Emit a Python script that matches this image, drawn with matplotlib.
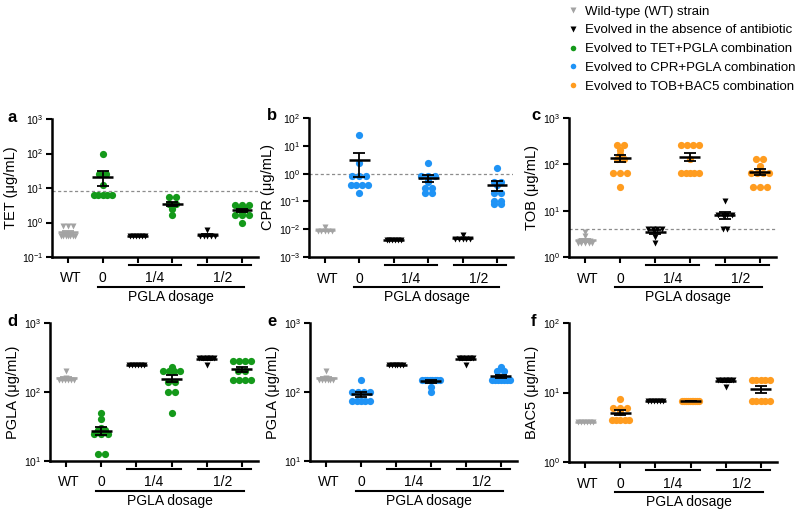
import numpy as np
import matplotlib.pyplot as plt
from matplotlib.lines import Line2D
from matplotlib.ticker import LogLocator, NullLocator
from matplotlib.transforms import blended_transform_factory

plt.rcParams['font.family'] = ['Liberation Sans', 'DejaVu Sans']
plt.rcParams['mathtext.default'] = 'regular'

# group order in every panel:
# WT, PGLA 0 (combination), 1/4 no antibiotic, 1/4 combination, 1/2 no antibiotic, 1/2 combination
group_labels = ['WT', '0', '1/4', '1/2']
dosage_label = 'PGLA dosage'

tet = [
    [0.8, 0.8, 0.8, 0.4, 0.4, 0.4, 0.4, 0.4, 0.4, 0.4],
    [100, 25, 25, 12.5, 6.25, 6.25, 6.25, 6.25, 6.25],
    [0.4, 0.4, 0.4, 0.4, 0.4, 0.4],
    [5.5, 5.5, 3.5, 3.5, 3.2, 3.0, 2.5, 1.6],
    [0.6, 0.4, 0.4, 0.4, 0.4, 0.4],
    [3.2, 3.2, 3.2, 2.5, 2.5, 2.0, 1.6, 1.6, 1.6, 1.0],
]
cpr = [
    [0.012, 0.0085, 0.0085, 0.0085, 0.0085, 0.0085],
    [25, 2.5, 0.8, 0.8, 0.8, 0.4, 0.4, 0.4, 0.4, 0.2],
    [0.004, 0.004, 0.004, 0.004, 0.004, 0.004],
    [2.5, 0.8, 0.8, 0.8, 0.6, 0.5, 0.3, 0.3, 0.2, 0.2],
    [0.006, 0.0045, 0.0045, 0.0045, 0.0045, 0.0045],
    [1.6, 0.5, 0.5, 0.4, 0.2, 0.2, 0.1, 0.1, 0.08, 0.08],
]
tob = [
    [3.5, 2.8, 2.2, 2.2, 2.2, 2.0, 2.0, 2.0, 2.0, 2.0],
    [256, 256, 200, 170, 128, 128, 64, 64, 64, 32],
    [4, 4, 4, 4, 2.7, 2],
    [256, 256, 256, 256, 128, 64, 64, 64, 64, 64],
    [16, 8, 8, 8, 8, 4, 4],
    [128, 128, 90, 64, 64, 64, 64, 32, 32, 32],
]
pgla_tet = [
    [200, 160, 150, 150, 150, 150, 150, 150],
    [50, 40, 30, 28, 28, 25, 25, 25, 12.5, 12.5],
    [250, 250, 250, 250, 250, 250],
    [230, 200, 200, 200, 200, 140, 140, 100, 100, 50],
    [310, 310, 310, 310, 310, 250],
    [280, 280, 280, 280, 200, 200, 150, 150, 150, 150],
]
pgla_cpr = [
    [200, 160, 150, 150, 150, 150, 150, 150],
    [150, 100, 100, 100, 100, 75, 75, 75, 75, 75],
    [250, 250, 250, 250, 250, 250],
    [150, 150, 150, 150, 150, 150, 150, 150, 120, 100],
    [310, 310, 310, 310, 310, 250],
    [230, 200, 200, 150, 150, 150, 150, 150, 150, 150],
]
bac5 = [
    [3.8, 3.8, 3.8, 3.8, 3.8, 3.8],
    [8, 6, 6, 6, 5.3, 4, 4, 4, 4, 4],
    [7.5, 7.5, 7.5, 7.5, 7.5, 7.5],
    [7.5, 7.5, 7.5, 7.5, 7.5, 7.5, 7.5, 7.5, 7.5, 7.5],
    [15, 15, 15, 15, 15, 12],
    [15, 15, 15, 15, 15, 7.5, 7.5, 7.5, 7.5, 7.5],
]

green = '#14991a'
blue = '#1f93f5'
orange = '#ff9c1f'
grey = '#a3a3a3'

legend_labels = ['Wild-type (WT) strain', 'Evolved in the absence of antibiotic',
                 'Evolved to TET+PGLA combination', 'Evolved to CPR+PGLA combination',
                 'Evolved to TOB+BAC5 combination']

# letter, y label, data, colour, y limits, dotted breakpoint, axes rect (px: left, top, right, bottom)
panels = [
    ('a', 'TET (μg/mL)', tet, green, (0.1, 1000), 8, (52, 119, 258, 257)),
    ('b', 'CPR (μg/mL)', cpr, blue, (0.001, 100), 1, (309, 118, 513, 257)),
    ('c', 'TOB (μg/mL)', tob, orange, (1, 1000), 4, (569, 118, 776, 257)),
    ('d', 'PGLA (μg/mL)', pgla_tet, green, (10, 1000), None, (50, 323, 258, 461)),
    ('e', 'PGLA (μg/mL)', pgla_cpr, blue, (10, 1000), None, (310, 323, 517, 461)),
    ('f', 'BAC5 (μg/mL)', bac5, orange, (1, 100), None, (569, 323, 777, 462)),
]
letter_x = {'a': 7, 'b': 267, 'c': 531, 'd': 7, 'e': 267, 'f': 531}

W, H = 800, 516
fig = plt.figure(figsize=(8, 5.16), dpi=100)


def offsets(vals, span, step_max):
    # spread points with the same value side by side, like a scatter dot plot
    vals = np.asarray(vals, dtype=float)
    key = np.round(np.log10(vals) * 25)
    off = np.zeros(len(vals))
    for k in np.unique(key):
        idx = np.where(key == k)[0]
        n = len(idx)
        if n > 1:
            step = min(step_max, span / (n - 1))
            off[idx] = (np.arange(n) - (n - 1) / 2) * step
    return off


for letter, ylabel, data, color, ylim, cut, (l, t, r, b) in panels:
    ax = fig.add_axes([l / W, 1 - b / H, (r - l) / W, (b - t) / H])
    ax.set_yscale('log')
    ax.set_ylim(*ylim)
    ax.set_xlim(-0.46, 5.46)

    for i, vals in enumerate(data):
        if i == 0:
            mk, mc, ms, lc = 'v', grey, 4.5, grey
        elif i in (2, 4):
            mk, mc, ms, lc = 'v', 'black', 4.5, 'black'
        else:
            mk, mc, ms, lc = 'o', color, 5.2, 'black'
        v = np.asarray(vals, dtype=float)
        if mk == 'v':
            off = offsets(v, 0.42, 0.14)
        else:
            off = offsets(v, 0.5, 0.2)
        ax.plot(i + off, v, ls='none', marker=mk, color=mc, ms=ms,
                mec='none', zorder=2, clip_on=False)
        m = v.mean()
        sem = v.std(ddof=1) / np.sqrt(len(v))
        ax.hlines(m, i - 0.3, i + 0.3, color=lc, lw=1.8, zorder=3)
        ax.vlines(i, m - sem, m + sem, color=lc, lw=1.3, zorder=3)
        ax.hlines([m - sem, m + sem], i - 0.17, i + 0.17, color=lc, lw=1.3, zorder=3)

    if cut is not None:
        ax.axhline(cut, color='0.55', lw=0.9, ls=(0, (2.5, 2)), zorder=1)

    for s in ('top', 'right'):
        ax.spines[s].set_visible(False)
    for s in ('left', 'bottom'):
        ax.spines[s].set_linewidth(1.8)
    ax.yaxis.set_major_locator(LogLocator(base=10))
    ax.yaxis.set_minor_locator(NullLocator())
    ax.yaxis.set_major_formatter(plt.FuncFormatter(lambda y, p: '$10^{%d}$' % round(np.log10(y))))
    ax.set_xticks(range(6))
    ax.set_xticklabels([])
    ax.tick_params(axis='both', width=1.5, length=4, labelsize=7.5, pad=2)
    if letter in ('b', 'f'):
        ax.xaxis.get_major_ticks()[0].tick1line.set_color('0.8')
    ax.set_ylabel(ylabel, fontsize=10.5, labelpad=3)

    tr = blended_transform_factory(ax.transData, ax.transAxes)
    for x0, x1 in ((1.74, 3.26), (3.74, 5.26)):
        ax.plot([x0, x1], [-0.055, -0.055], color='black', lw=1.5, transform=tr, clip_on=False)
    ax.plot([0.85, 5.05], [-0.215, -0.215], color='black', lw=1.5, transform=tr, clip_on=False)
    for x, lab in zip([0.07, 1.0, 2.5, 4.45], group_labels):
        ax.text(x, -0.155, lab, transform=tr, ha='center', va='center', fontsize=10)
    ax.text(2.95, -0.29, dosage_label, transform=tr, ha='center', va='center', fontsize=10)

    fig.text(letter_x[letter] / W, 1 - (t - 2) / H, letter, fontsize=12, fontweight='bold',
             ha='left', va='center')

handles = [
    Line2D([], [], ls='none', marker='v', color=grey, ms=4, mec='none'),
    Line2D([], [], ls='none', marker='v', color='black', ms=4, mec='none'),
    Line2D([], [], ls='none', marker='o', color=green, ms=4, mec='none'),
    Line2D([], [], ls='none', marker='o', color=blue, ms=4, mec='none'),
    Line2D([], [], ls='none', marker='o', color=orange, ms=4, mec='none'),
]
fig.legend(handles, legend_labels, loc='upper left', bbox_to_anchor=(560 / W, 1.005),
           frameon=False, fontsize=9.5, handlelength=0.8, handletextpad=0.5,
           labelspacing=0.5, borderpad=0.1)

fig.savefig('out.png', dpi=100)
